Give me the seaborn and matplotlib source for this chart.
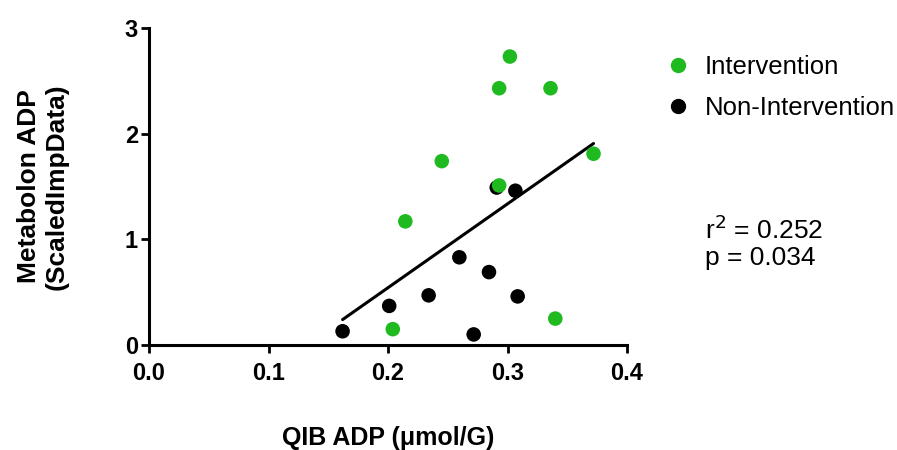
import numpy as np
import pandas as pd
import matplotlib
matplotlib.use("Agg")
import matplotlib.pyplot as plt
from matplotlib.lines import Line2D
import seaborn as sns

# QIB ADP vs Metabolon ADP, by group
interv_x = [0.302, 0.293, 0.336, 0.372, 0.245, 0.293, 0.2145, 0.204, 0.340]
interv_y = [2.73, 2.43, 2.43, 1.81, 1.74, 1.51, 1.17, 0.15, 0.25]
nonint_x = [0.162, 0.201, 0.234, 0.2597, 0.2845, 0.3085, 0.2717, 0.291, 0.3066]
nonint_y = [0.13, 0.37, 0.47, 0.83, 0.69, 0.46, 0.10, 1.49, 1.46]
groups = ["Intervention", "Non-Intervention"]
colors = {"Intervention": "#1fba1f", "Non-Intervention": "#000000"}
x_ticks = [0.0, 0.1, 0.2, 0.3, 0.4]
y_ticks = [0, 1, 2, 3]
stats_text = "r$^2$ = 0.252\np = 0.034"

df = pd.DataFrame({
    "x": nonint_x + interv_x,
    "y": nonint_y + interv_y,
    "group": [groups[1]] * len(nonint_x) + [groups[0]] * len(interv_x),
})

sns.set_style("ticks")
plt.rcParams["font.family"] = ["Liberation Sans", "DejaVu Sans"]
plt.rcParams["text.color"] = "black"
plt.rcParams["axes.labelcolor"] = "black"
plt.rcParams["xtick.color"] = "black"
plt.rcParams["ytick.color"] = "black"
plt.rcParams["axes.edgecolor"] = "black"

fig = plt.figure(figsize=(8.97, 4.5), dpi=100)
ax = fig.add_axes([149 / 897, 105 / 450, 478 / 897, 317 / 450])

sns.scatterplot(data=df, x="x", y="y", hue="group", palette=colors,
                s=110, edgecolor="none", legend=False, ax=ax, zorder=3)
sns.regplot(data=df, x="x", y="y", scatter=False, ci=None, truncate=True,
            line_kws={"color": "black", "lw": 2.2}, ax=ax)

ax.set_xlim(0, 0.4)
ax.set_ylim(0, 3)
ax.set_xticks(x_ticks)
ax.set_xticklabels([f"{t:.1f}" for t in x_ticks])
ax.set_yticks(y_ticks)
for lab in ax.get_xticklabels() + ax.get_yticklabels():
    lab.set_fontweight("bold")
ax.tick_params(axis="both", labelsize=17, width=2, length=6, direction="out")
ax.tick_params(axis="x", pad=6)
ax.tick_params(axis="y", pad=2)
for side in ["top", "right"]:
    ax.spines[side].set_visible(False)
for side in ["left", "bottom"]:
    ax.spines[side].set_linewidth(2.2)

ax.set_xlabel("QIB ADP (\u03bcmol/G)", fontsize=18, fontweight="bold", labelpad=30)
ax.set_ylabel("Metabolon ADP\n(ScaledImpData)", fontsize=19, fontweight="bold", labelpad=40)

handles = [Line2D([], [], marker="o", ls="none", color=colors[g], markersize=10)
           for g in groups]
fig.legend(handles, groups, loc="upper left", bbox_to_anchor=(665 / 897, 1 - 55 / 450),
           frameon=False, fontsize=18.5, handletextpad=0.56, labelspacing=0.68,
           borderaxespad=0, borderpad=0, handlelength=1.0)

fig.text(705 / 897, 1 - 243 / 450, stats_text, fontsize=19, va="center", ha="left",
         linespacing=1.12)

fig.savefig("out.png", dpi=100)
